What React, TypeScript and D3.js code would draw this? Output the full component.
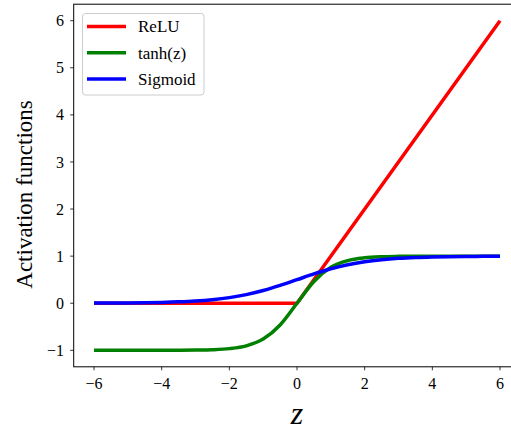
import React from "react";
import * as d3 from "d3";

const zValues = [-6, -5.5, -5, -4.5, -4, -3.5, -3, -2.5, -2, -1.5, -1, -0.5, 0, 0.5, 1, 1.5, 2, 2.5, 3, 3.5, 4, 4.5, 5, 5.5, 6];
const reluZ = [-6, 0, 6];
const reluValues = [0, 0, 6];
const tanhValues = [-1, -1, -1, -1, -0.999, -0.998, -0.995, -0.987, -0.964, -0.905, -0.762, -0.462, 0, 0.462, 0.762, 0.905, 0.964, 0.987, 0.995, 0.998, 0.999, 1, 1, 1, 1];
const sigmoidValues = [0.0025, 0.004, 0.0067, 0.011, 0.018, 0.029, 0.047, 0.076, 0.119, 0.182, 0.269, 0.378, 0.5, 0.622, 0.731, 0.818, 0.881, 0.924, 0.953, 0.971, 0.982, 0.989, 0.993, 0.996, 0.9975];
const xTicks = [-6, -4, -2, 0, 2, 4, 6];
const yTicks = [-1, 0, 1, 2, 3, 4, 5, 6];
const legendLabels = ["ReLU", "tanh(z)", "Sigmoid"];
const colors = ["#ff0000", "#008000", "#0000ff"];

const W = 511;
const H = 430;
const FONT = "'Liberation Serif', 'DejaVu Serif', serif";

const fmt = (v: number) => (v < 0 ? "\u2212" + Math.abs(v) : String(v));

export default function App() {
  const x = d3.scaleLinear().domain([-6.6, 6.6]).range([73.7, 520.3]);
  const y = d3.scaleLinear().domain([-1.35, 6.35]).range([366.8, 4.2]);

  const lineGen = d3
    .line<[number, number]>()
    .x((d) => x(d[0]))
    .y((d) => y(d[1]))
    .curve(d3.curveMonotoneX);
  const linear = d3
    .line<[number, number]>()
    .x((d) => x(d[0]))
    .y((d) => y(d[1]));

  const relu = linear(reluZ.map((z, i) => [z, reluValues[i]] as [number, number])) || "";
  const tanh = lineGen(zValues.map((z, i) => [z, tanhValues[i]] as [number, number])) || "";
  const sig = lineGen(zValues.map((z, i) => [z, sigmoidValues[i]] as [number, number])) || "";
  const paths = [relu, tanh, sig];

  const left = x(-6.6);
  const right = x(6.6);
  const top = y(6.35);
  const bottom = y(-1.35);

  return (
    <svg
      width={W}
      height={H}
      style={{ position: "absolute", left: 0, top: 0, background: "#fff" }}
      fontFamily={FONT}
    >
      <defs>
        <clipPath id="plotclip">
          <rect x={left} y={top} width={right - left} height={bottom - top} />
        </clipPath>
      </defs>
      <g clipPath="url(#plotclip)">
        {paths.map((p, i) => (
          <path key={i} d={p} fill="none" stroke={colors[i]} strokeWidth={3.5} strokeLinejoin="round" />
        ))}
      </g>
      {/* spines */}
      <rect x={left} y={top} width={right - left} height={bottom - top} fill="none" stroke="#000" strokeWidth={1} />
      {/* x ticks */}
      {xTicks.map((t) => (
        <g key={"x" + t}>
          <line x1={x(t)} x2={x(t)} y1={bottom} y2={bottom + 3.5} stroke="#000" strokeWidth={0.8} />
          <text x={x(t)} y={388.5} textAnchor="middle" fontSize={16} fill="#000">
            {fmt(t)}
          </text>
        </g>
      ))}
      {/* y ticks */}
      {yTicks.map((t) => (
        <g key={"y" + t}>
          <line x1={left - 3.5} x2={left} y1={y(t)} y2={y(t)} stroke="#000" strokeWidth={0.8} />
          <text x={64} y={y(t)} dy="0.35em" textAnchor="end" fontSize={16} fill="#000">
            {fmt(t)}
          </text>
        </g>
      ))}
      {/* axis labels */}
      <text
        transform={`translate(32, ${(top + bottom) / 2 + 9}) rotate(-90)`}
        textAnchor="middle"
        fontSize={23}
        fill="#000"
      >
        Activation functions
      </text>
      <text x={x(0)} y={424} textAnchor="middle" fontSize={32} fontStyle="italic" fill="#000">
        z
      </text>
      {/* legend */}
      <rect x={82.5} y={13.5} width={121.5} height={81.5} rx={3} fill="#fff" fillOpacity={0.8} stroke="#ccc" strokeWidth={1} />
      {legendLabels.map((l, i) => (
        <g key={l}>
          <line x1={87} x2={126} y1={26.5 + i * 26.2} y2={26.5 + i * 26.2} stroke={colors[i]} strokeWidth={3.5} />
          <text x={138} y={26.5 + i * 26.2} dy="0.35em" fontSize={17} fill="#000">
            {l}
          </text>
        </g>
      ))}
    </svg>
  );
}
